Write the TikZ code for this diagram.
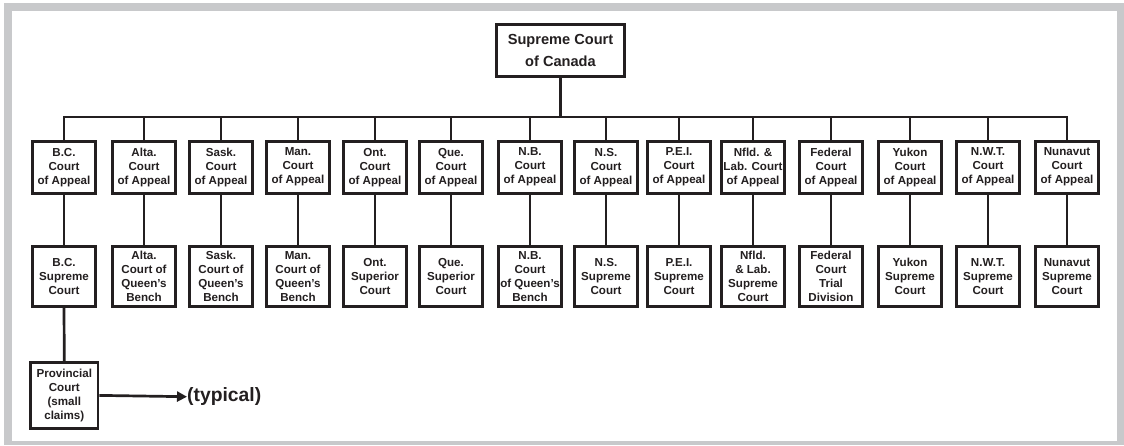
\documentclass[tikz,border=0pt]{standalone}
\usepackage{fontspec}
\setmainfont{Liberation Sans}
\usetikzlibrary{arrows.meta}
\definecolor{ink}{HTML}{231F20}
\definecolor{frame}{HTML}{C8C9CB}
\tikzset{
  court/.style={draw=ink, line width=2.7pt, inner sep=0pt, align=center,
    text=ink, font=\bfseries\fontsize{11.6}{14}\selectfont, fill=white},
  appealbox/.style={court, minimum width=62.5pt, minimum height=52pt},
  trialbox/.style={court, minimum width=62.5pt, minimum height=60pt},
  link/.style={draw=ink, line width=2.7pt},
}
\begin{document}
\begin{tikzpicture}[x=1pt,y=-1pt]
\useasboundingbox (0,0) rectangle (1124,445);
\fill[frame] (4,3) rectangle (1124,445);
\fill[white] (12,11) rectangle (1117,441);

\node[court, minimum width=128.5pt, minimum height=52.5pt,
  font=\bfseries\fontsize{14.6}{21.5}\selectfont] (top) at (560.5,50.5) {Supreme Court\\of Canada};
\coordinate (bus) at (560.5,117);
\draw[link] (top.south) -- (bus);

\foreach \i/\x/\ta/\tb in {
  1/64/{B.C.\\Court\\of Appeal}/{B.C.\\Supreme\\Court},
  2/144/{Alta.\\Court\\of Appeal}/{Alta.\\Court of\\Queen’s\\Bench},
  3/221/{Sask.\\Court\\of Appeal}/{Sask.\\Court of\\Queen’s\\Bench},
  4/298/{Man.\\Court\\of Appeal}/{Man.\\Court of\\Queen’s\\Bench},
  5/375/{Ont.\\Court\\of Appeal}/{Ont.\\Superior\\Court},
  6/451/{Que.\\Court\\of Appeal}/{Que.\\Superior\\Court},
  7/530/{N.B.\\Court\\of Appeal}/{N.B.\\Court\\of Queen’s\\Bench},
  8/606/{N.S.\\Court\\of Appeal}/{N.S.\\Supreme\\Court},
  9/679/{P.E.I.\\Court\\of Appeal}/{P.E.I.\\Supreme\\Court},
  10/753/{Nfld. \&\\Lab. Court\\of Appeal}/{Nfld.\\\& Lab.\\Supreme\\Court},
  11/831/{Federal\\Court\\of Appeal}/{Federal\\Court\\Trial\\Division},
  12/910/{Yukon\\Court\\of Appeal}/{Yukon\\Supreme\\Court},
  13/988/{N.W.T.\\Court\\of Appeal}/{N.W.T.\\Supreme\\Court},
  14/1067/{Nunavut\\Court\\of Appeal}/{Nunavut\\Supreme\\Court}}{
  \node[appealbox] (a\i) at (\x,167.2) {\ta};
  \node[trialbox] (t\i) at (\x,276.2) {\tb};
  \draw[link] (a\i.north |- bus) -- (a\i.north);
  \draw[link] (a\i.south) -- (t\i.north);
}
\draw[link, line cap=rect] (a1.north |- bus) -- (a14.north |- bus);

\node[court, minimum width=67.5pt, minimum height=66.5pt] (prov) at (64.3,395.4)
  {Provincial\\Court\\(small\\claims)};
\draw[link] (t1.south) -- (prov.north);
\node[anchor=west, inner sep=0pt, text=ink, font=\bfseries\fontsize{19.3}{22}\selectfont] (typ) at (187,396.7) {(typical)};
\draw[link, -{Triangle[length=10pt,width=10pt]}] (prov.east) -- (typ.west);
\end{tikzpicture}
\end{document}
